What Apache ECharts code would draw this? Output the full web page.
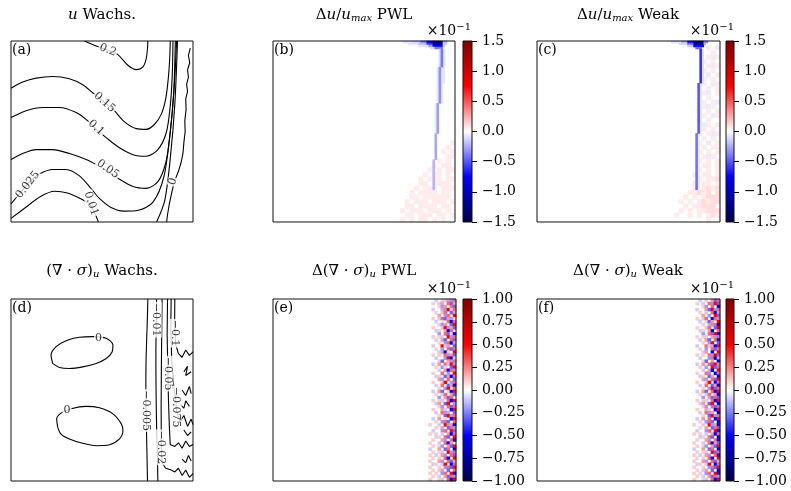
<!DOCTYPE html>
<html><head><meta charset="utf-8">
<script src="https://cdn.jsdelivr.net/npm/echarts@6/dist/echarts.min.js"></script>
<style>html,body{margin:0;padding:0;background:#fff}#c{width:791px;height:491px}</style>
</head><body><div id="c"></div>
<script>
// ---------- data ----------
// contour lines, panel (a)  [x, y] in unit domain (y up)
const aC020 = [[0.404,1.0],[0.468,0.972],[0.53,0.95],[0.587,0.925],[0.642,0.866],[0.688,0.842],[0.725,0.857],[0.743,0.903],[0.750,0.959],[0.752,1.0]];
const aC015 = [[0,0.739],[0.064,0.773],[0.138,0.795],[0.229,0.804],[0.321,0.791],[0.394,0.758],[0.450,0.713],[0.505,0.668],[0.560,0.624],[0.624,0.553],[0.688,0.516],[0.743,0.512],[0.789,0.540],[0.826,0.596],[0.850,0.680],[0.864,0.791],[0.872,0.903],[0.875,1.0]];
const aC010 = [[0,0.577],[0.083,0.615],[0.174,0.633],[0.266,0.633],[0.358,0.605],[0.422,0.559],[0.47,0.51],[0.523,0.466],[0.596,0.410],[0.670,0.372],[0.743,0.363],[0.807,0.400],[0.853,0.493],[0.875,0.642],[0.886,0.810],[0.890,1.0]];
const aC005 = [[0,0.345],[0.064,0.378],[0.138,0.400],[0.229,0.400],[0.321,0.378],[0.413,0.345],[0.468,0.317],[0.53,0.28],[0.587,0.242],[0.670,0.196],[0.743,0.186],[0.807,0.223],[0.850,0.326],[0.875,0.493],[0.894,0.717],[0.903,1.0]];
const aC0025 = [[0,0.10],[0.05,0.16],[0.10,0.22],[0.156,0.265],[0.229,0.29],[0.303,0.29],[0.376,0.255],[0.431,0.196],[0.486,0.13],[0.55,0.08],[0.62,0.06],[0.70,0.065],[0.78,0.11],[0.84,0.25],[0.875,0.5],[0.897,0.75],[0.91,1.0]];
const aC001a = [[0,0.02],[0.08,0.08],[0.16,0.14],[0.24,0.17],[0.31,0.16],[0.38,0.13],[0.43,0.10],[0.46,0.05],[0.48,0]];
const aC001b = [[0.80,0],[0.845,0.12],[0.875,0.35],[0.9,0.65],[0.915,1.0]];
const aC000 = [[0.985,0.96],[0.975,0.92],[0.982,0.88],[0.97,0.84],[0.975,0.8],[0.965,0.76],[0.97,0.72],[0.96,0.68],[0.962,0.62],[0.955,0.56],[0.957,0.5],[0.95,0.44],[0.945,0.38],[0.935,0.33],[0.92,0.28],[0.90,0.23],[0.885,0.17],[0.87,0.1],[0.86,0.04],[0.855,0]];
const aLabels = [[0.532,0.950,'0.2',-22],[0.514,0.661,'0.15',-42],[0.468,0.521,'0.1',-42],[0.532,0.292,'0.05',-35],[0.092,0.205,'0.025',52],[0.44,0.102,'0.01',-72],[0.89,0.223,'0',72]];

// contour lines, panel (d)
const dE1 = [[0.229,0.646],[0.220,0.692],[0.248,0.738],[0.303,0.771],[0.376,0.790],[0.450,0.793],[0.523,0.784],[0.560,0.747],[0.556,0.710],[0.523,0.673],[0.468,0.646],[0.394,0.627],[0.321,0.618],[0.266,0.624],[0.229,0.646]];
const dE2 = [[0.257,0.295],[0.251,0.341],[0.275,0.373],[0.330,0.397],[0.413,0.410],[0.486,0.402],[0.560,0.369],[0.606,0.314],[0.615,0.277],[0.596,0.231],[0.541,0.199],[0.468,0.194],[0.394,0.207],[0.321,0.231],[0.275,0.258],[0.257,0.295]];
const dC0005 = [[0.752,1],[0.748,0.85],[0.743,0.7],[0.741,0.55],[0.742,0.4],[0.745,0.25],[0.748,0.1],[0.75,0]];
const dC001 = [[0.80,1],[0.798,0.85],[0.796,0.7],[0.797,0.5],[0.80,0.3],[0.804,0.15],[0.807,0]];
const dC002 = [[0.83,1],[0.828,0.8],[0.826,0.6],[0.825,0.4],[0.826,0.2],[0.83,0.1],[0.85,0.07],[0.88,0.06],[0.9,0.05],[0.92,0.07],[0.94,0.03],[0.96,0.06],[0.98,0.02],[1,0.04]];
const dC005 = [[0.86,1],[0.858,0.8],[0.862,0.6],[0.865,0.45],[0.87,0.3],[0.875,0.2],[0.9,0.19],[0.92,0.21],[0.94,0.18],[0.96,0.22],[0.98,0.19],[1,0.2]];
const dC0075 = [[0.88,1],[0.878,0.85],[0.882,0.7],[0.89,0.55],[0.905,0.45],[0.91,0.38],[0.93,0.33],[0.95,0.36],[0.97,0.3],[0.99,0.34],[1,0.31]];
const dC01 = [[0.90,1],[0.899,0.85],[0.905,0.75],[0.92,0.7],[0.94,0.68],[0.96,0.72],[0.98,0.69],[1,0.71]];
const dNoise1 = [[0.95,0.6],[0.97,0.63],[0.96,0.58],[0.99,0.6]];
const dNoise2 = [[0.94,0.5],[0.96,0.47],[0.98,0.52],[0.99,0.48]];
const dNoise3 = [[0.95,0.28],[0.97,0.25],[0.99,0.27]];
const dNoise4 = [[0.93,0.42],[0.95,0.40],[0.96,0.44],[0.98,0.41]];
const dNoise5 = [[0.94,0.12],[0.96,0.10],[0.975,0.14],[0.99,0.11]];
const dLabels = [[0.481,0.784,'0',0],[0.308,0.387,'0',0],[0.743,0.387,'−0.005',-90],[0.798,0.886,'−0.01',-90],[0.826,0.185,'−0.02',-90],[0.862,0.590,'−0.05',-90],[0.908,0.406,'−0.075',-90],[0.899,0.812,'−0.1',-90]];

// heatmap cells: code -> value (units of 1e-1)
const levels = {'.':0,'q':-0.06,'1':-0.1,'2':-0.2,'3':-0.3,'4':-0.5,'5':-0.8,'p':0.06,'a':0.1,'b':0.2,'c':0.3,'d':0.5,'e':0.8};
// coarse layers (40x40 cells), rows top -> bottom
const nCoarse = 40;
const bStart = 28, bRowTop = 22;
const bRows = [
"...........p","..........p.",".........p.p","..........pp","........p.p.",".......p.pp.","......p.p.pp",".....p.pp.p.",
"....p.ppp.pp","....pp.pppp.","...p.ppp.ppp","..p.pppp.pp.","..pp.pppppp.",".p.ppp.ppp.p",".pp.pppp.pp.","p.ppp.ppp.p.",
".pp.ppp.pp.p","p.p.pp.p.p.."];
const cStart = 28, cRowTop = 0;
const cRows = [
"............",".........p.q","..........p.",".........pqp","........p.p.",".........pqp","........p.p.",".........q.p",
"........p.p.","........p.qp",".........p.p","........pq.p",".........p..","........p.pq","........pqp.",".......p.p.p",
"........p.qp",".......p.p..","........qp.p","........p.p.",".......p.pqp","........p.p.",".......p.q.p","........p.pp",
".......p.p.p","........pqp.",".......p.p.p","........pp.p",".......p.p.p","......p.pp.p",".......p.ppa","......p.pp.p",
"......p.papa",".....ppapa.a","....p.p.paaa","...p.p.papaa","....p.ppaaa.","...p.p.ppaaa","..p..p.p.pap",".........p.."];
// fine layers (90x90 cells): horizontal runs [row, col0, col1, value], vertical runs [col, row0, row1, value]
const nFine = 90;
const bBlob = [[0,64,68,-0.08],[0,69,72,-0.15],[0,73,75,-0.4],[0,76,78,-0.9],[0,79,83,-1.4],[0,84,85,-0.25],
  [1,67,71,-0.08],[1,72,75,-0.2],[1,76,78,-0.6],[1,79,83,-1.15],[1,84,85,-0.15],
  [2,72,76,-0.08],[2,77,78,-0.3],[2,79,83,-0.75],[2,84,84,-0.12],[3,78,79,-0.12],[3,80,83,-0.4]];
const bHaze = [[84,4,20,-0.08],[82,4,12,-0.1],[81,13,30,-0.07],[83,13,30,-0.07],[80,31,45,-0.06]];
const bLine = [[83,4,12,-0.4],[82,13,30,-0.33],[81,31,45,-0.3],[80,46,58,-0.27],[79,59,73,-0.22]];
const cBlob = [[0,66,70,-0.1],[0,71,73,-0.25],[0,74,76,-0.75],[0,77,81,-1.45],[0,82,83,-0.35],
  [1,70,73,-0.12],[1,74,76,-0.45],[1,77,81,-1.15],[1,82,82,-0.25],[2,74,76,-0.15],[2,77,81,-0.75],[3,78,80,-0.45]];
const cHaze = [[81,4,20,-0.1],[80,21,45,-0.08],[79,46,73,-0.07]];
const cLine = [[80,4,20,-0.6],[79,21,45,-0.5],[78,46,73,-0.42]];
// panels (e),(f): 60x60 cells, columns 50..59, rows top -> bottom
const nMid = 60;
const eStart = 50;
const eRows = [
"...1.a1b2c","..a.1b.c3b","....a2b.c3","..1..b2d1c","...a.1c.3b","....b.2c.d","..a.1c3b2a","...1.a.c4c","....a2b.3d","..a..1d2b3",
"...1a.b4c.","....2.c3a4","..a.a1.d2c","...1.b3.c3","....a.2c4b","..1..d1b.3","...a.2.c3c","....1b4a.d","..a.a.c2b3","...1..2d4a",
"....a3.b2c","..1.b.c1d2","...a.2a.3d","....1.b4c2","..a..c.2.d","...1a.3b4c","....b2.c.3","..a..1d.2c","...1.c.3b4","....a.2d.c",
"..1.b3.a4d","...a.1c.b3","....2.b3c.","..a.a1.c4d","...1b.3d.2","....a2.c3c","..a..b1.4d","...1.c2b.3","....a.3d2c","..1.b.a.4d",
"...a.2c3.c",".a..1.d2b4","...a.b.3c2","..1..2c.d3",".a.a.1.b4c","...1a.c3.d","..a..b2.c4",".a..1.c4b.","..a.a2.b3d",".1..b.3c.4",
"..a.a1.d2c",".a.1.b2.c3","..a.a.c4.d",".a..b2.c3b","..1a.1d.4c",".a..a.2c3d","..a.1b.3.c",".a.a.2c.d4","..a.1.b3c2",".a..a1.c4d"];
const fStart = 50;
const fRows = [
"...1.a.b3c","..a.1.c2d3","....a2.c.4","..1..b3d2c","...a.1.c4b","....b.2.d3","..a.1c.4c2","...1.a3b.d","....a.b2c4","..a..1c.3d",
"...1a.b4.c","....2.c3d4","..a.a1.b2c","...1.b3.c4","....a.2d.3","..1..c1b4d","...a.2.c3c","....1b.4.d","..a.a.c2d3","...1..2c4b",
"....a3.b.4","..1.b.c3d2","...a.2.d3c","....1.b4.d","..a..c2.4c","...1a.3b.4","....b2.c3d","..a..1d.4c","...1.c.3b4","....a.2d3c",
"..1.b3.c4d","...a.1c.b4","....2.b3c3","..a.a1.c4d","...1b.3d.4","....a2.c3c","..a..b1.4d","...1.c2b.4","....a.3d2c","..1.b.c.4d",
"...a.2c3.4",".a..1.d2b4","...a.b.3c3","..1..2c.d4",".a.a.1.b4c","...1a.c3.4","..a..b2.c4",".a..1.c4b3","..a.a2.b3d",".1..b.3c.4",
"..a.a1.d3c",".a.1.b2.c4","..a.a.c4.d",".a..b2.c3b","..1a.1d.4c",".a..a.2c3d","..a.1b.3.4",".a.a.2c.d4","..a.1.b3c2",".a..a1.c4d"];

// colour bars
const cbRangeU = [-1.5, 1.5], cbStepU = 0.5;
const cbRangeS = [-1.0, 1.0], cbStepS = 0.25;

// ---------- build ----------
const seismic = ['#00004d','#0000ff','#ffffff','#ff0000','#800000'];
const idx = n => Array.from({length:n},(_,i)=>i);
function heat(rows,start,rowTop,n){const out=[];rows.forEach((s,r)=>{for(let i=0;i<s.length;i++){const v=levels[s[i]];if(v)out.push([start+i,n-1-(rowTop+r),v]);}});return out;}
function runs(h,vr,n){const out=[];
  h.forEach(([r,c0,c1,v])=>{for(let c=c0;c<=c1;c++)out.push([c,n-1-r,v]);});
  vr.forEach(([c,r0,r1,v])=>{for(let r=r0;r<=r1;r++)out.push([c,n-1-r,v]);});
  return out;}

const G = [
 {left:11,top:41,width:182,height:181},
 {left:273,top:41,width:182,height:181},
 {left:537,top:41,width:183,height:181},
 {left:11,top:299,width:182,height:182},
 {left:273,top:299,width:183,height:182},
 {left:537,top:299,width:183,height:182},
 {left:463,top:41,width:9,height:181},
 {left:726,top:41,width:8,height:181},
 {left:463,top:299,width:9,height:182},
 {left:726,top:299,width:8,height:182},
 {left:273,top:41,width:182,height:181},
 {left:537,top:41,width:183,height:181}
];
const grid = G.map((g,i)=>Object.assign({show:i<10,backgroundColor:'transparent',borderColor:'#111',borderWidth:1,z:5},g));
const xAxis=[], yAxis=[];
[0,3].forEach(i=>{xAxis[i]={type:'value',gridIndex:i,min:0,max:1,show:false};yAxis[i]={type:'value',gridIndex:i,min:0,max:1,show:false};});
[[1,nCoarse],[2,nCoarse],[4,nMid],[5,nMid],[10,nFine],[11,nFine]].forEach(([i,n])=>{xAxis[i]={type:'category',gridIndex:i,data:idx(n),show:false};yAxis[i]={type:'category',gridIndex:i,data:idx(n),show:false};});
function cbAxis(i,range,step,dec){
  xAxis[i]={type:'category',gridIndex:i,data:['cb'],show:false};
  yAxis[i]={type:'value',gridIndex:i,min:range[0],max:range[1],interval:step,position:'right',
    axisLine:{show:false},splitLine:{show:false},
    axisTick:{show:true,length:5,lineStyle:{color:'#000',width:1}},
    axisLabel:{margin:10,color:'#000',fontFamily:'DejaVu Serif',fontSize:14,
      formatter:v=>(v<0?'−':'')+Math.abs(v).toFixed(dec)}};
}
cbAxis(6,cbRangeU,cbStepU,1);cbAxis(7,cbRangeU,cbStepU,1);cbAxis(8,cbRangeS,cbStepS,2);cbAxis(9,cbRangeS,cbStepS,2);

const series=[];
function line(g,data,smooth){series.push({type:'line',xAxisIndex:g,yAxisIndex:g,data:data,showSymbol:false,symbol:'none',smooth:smooth?0.3:false,lineStyle:{color:'#000',width:1.1},silent:true,animation:false,z:3});}
function labels(g,arr,fs){series.push({type:'scatter',xAxisIndex:g,yAxisIndex:g,symbolSize:0,silent:true,animation:false,z:4,
  data:arr.map(a=>({value:[a[0],a[1]],label:{formatter:a[2],rotate:a[3]}})),
  label:{show:true,position:'inside',color:'#000',fontFamily:'DejaVu Serif',fontSize:fs,backgroundColor:'#fff',padding:[0,1]}});}
[aC020,aC015,aC010,aC005,aC0025,aC001a,aC001b].forEach(d=>line(0,d,true));
line(0,aC000,false);
labels(0,aLabels,11);
[dE1,dE2].forEach(d=>line(3,d,true));
[dC0005,dC001].forEach(d=>line(3,d,true));
[dC002,dC005,dC0075,dC01,dNoise1,dNoise2,dNoise3,dNoise4,dNoise5].forEach(d=>line(3,d,false));
labels(3,dLabels,11);
const heatIdxU=[], heatIdxS=[];
function hm(g,data,arr){arr.push(series.length);series.push({type:'heatmap',xAxisIndex:g,yAxisIndex:g,data:data,silent:true,animation:false,emphasis:{disabled:true},itemStyle:{borderWidth:0}});}
hm(1,heat(bRows,bStart,bRowTop,nCoarse),heatIdxU);
hm(2,heat(cRows,cStart,cRowTop,nCoarse),heatIdxU);
hm(10,runs(bBlob,bHaze.concat(bLine),nFine),heatIdxU);
hm(11,runs(cBlob,cHaze.concat(cLine),nFine),heatIdxU);
hm(4,heat(eRows,eStart,0,nMid),heatIdxS);
hm(5,heat(fRows,fStart,0,nMid),heatIdxS);
function cbar(g,range){
  series.push({type:'bar',xAxisIndex:g,yAxisIndex:g,data:[range[1]],barWidth:'100%',barGap:'-100%',silent:true,animation:false,
    itemStyle:{color:new echarts.graphic.LinearGradient(0,0,0,1,[{offset:0,color:seismic[4]},{offset:0.5,color:seismic[3]},{offset:1,color:seismic[2]}])}});
  series.push({type:'bar',xAxisIndex:g,yAxisIndex:g,data:[range[0]],barWidth:'100%',barGap:'-100%',silent:true,animation:false,
    itemStyle:{color:new echarts.graphic.LinearGradient(0,0,0,1,[{offset:0,color:seismic[2]},{offset:0.5,color:seismic[1]},{offset:1,color:seismic[0]}])}});
}
cbar(6,cbRangeU);cbar(7,cbRangeU);cbar(8,cbRangeS);cbar(9,cbRangeS);

const R = {
  i:{fontStyle:'italic',fontSize:15,fontFamily:'DejaVu Serif'},
  s:{fontStyle:'italic',fontSize:10,fontFamily:'DejaVu Serif',padding:[7,0,0,0]},
  sup:{fontSize:10,fontFamily:'DejaVu Serif',padding:[0,0,7,0]}
};
function txt(x,y,text,align,fs){return {type:'text',x:x,y:y,silent:true,z:10,style:{text:text,fill:'#000',fontSize:fs||15,fontFamily:'DejaVu Serif',align:align||'center',verticalAlign:'middle',rich:R}};}
const graphic = [
  txt(102,15,'{i|u} Wachs.'),
  txt(364,15,'Δ{i|u}/{i|u}{s|max} PWL'),
  txt(628,15,'Δ{i|u}/{i|u}{s|max} Weak'),
  txt(102,271,'(∇ · {i|σ}){s|u} Wachs.'),
  txt(364,271,'Δ(∇ · {i|σ}){s|u} PWL'),
  txt(628,271,'Δ(∇ · {i|σ}){s|u} Weak'),
  txt(471,31,'×10{sup|−1}','right',14),
  txt(734,31,'×10{sup|−1}','right',14),
  txt(471,289,'×10{sup|−1}','right',14),
  txt(734,289,'×10{sup|−1}','right',14),
  txt(12,50,'(a)','left',14),txt(274,50,'(b)','left',14),txt(538,50,'(c)','left',14),
  txt(12,308,'(d)','left',14),txt(274,308,'(e)','left',14),txt(538,308,'(f)','left',14)
];

const chart = echarts.init(document.getElementById('c'),null,{renderer:'canvas'});
chart.setOption({
  animation:false,backgroundColor:'#fff',
  grid:grid,xAxis:xAxis,yAxis:yAxis,series:series,graphic:graphic,
  visualMap:[
    {type:'continuous',show:false,min:cbRangeU[0],max:cbRangeU[1],seriesIndex:heatIdxU,inRange:{color:seismic}},
    {type:'continuous',show:false,min:cbRangeS[0],max:cbRangeS[1],seriesIndex:heatIdxS,inRange:{color:seismic}}
  ]
});
</script></body></html>
